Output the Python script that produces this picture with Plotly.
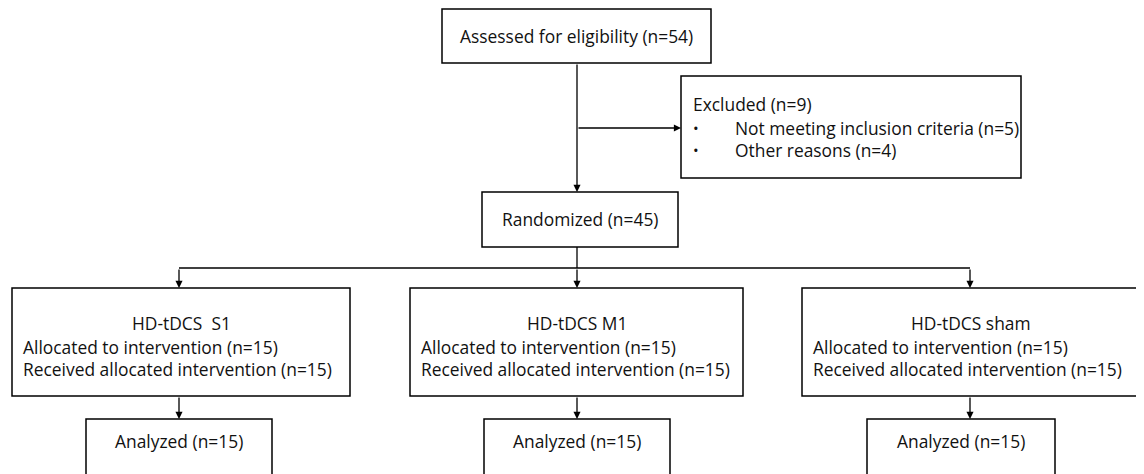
import plotly.graph_objects as go

# counts
assessed_n = 54
excluded_n = 9
excluded_reasons = ["Not meeting inclusion criteria", "Other reasons"]
excluded_counts = [5, 4]
randomized_n = 45
groups = ["HD-tDCS  S1", "HD-tDCS M1", "HD-tDCS sham"]
allocated_n = [15, 15, 15]
received_n = [15, 15, 15]
analyzed_n = [15, 15, 15]

# layout (pixel coordinates of the page, y grows downwards)
W, H = 1144, 474
PAD = 8  # default body margin of the html page
TOP_BOX = (442, 711, 9, 63)
EXCL_BOX = (681, 1021, 76, 178)
RAND_BOX = (482, 678, 192, 247)
GROUP_BOXES = [(12, 350), (410, 743), (802, 1140)]
GROUP_Y = (288, 396)
ANAL_BOXES = [(86, 272), (484, 670), (867, 1055)]
ANAL_Y = (419, 520)
SPLIT_Y = 268
BRANCH_Y = 128
FONT = dict(family="Open Sans, sans-serif", size=17.4, color="#111111")
LINE = dict(color="black", width=1.3)

fig = go.Figure()


def box(x0, x1, y0, y1):
    fig.add_shape(type="rect", x0=x0, x1=x1, y0=y0, y1=y1,
                  line=dict(color="black", width=1.5), fillcolor="white", layer="above")


def line(x0, y0, x1, y1):
    fig.add_shape(type="line", x0=x0, y0=y0, x1=x1, y1=y1, line=LINE, layer="below")


def arrow(x0, y0, x1, y1):
    fig.add_annotation(x=x1, y=y1, ax=x0, ay=y0, xref="x", yref="y", axref="x", ayref="y",
                       text="", showarrow=True, arrowhead=2, arrowsize=1.1, arrowwidth=1.3,
                       arrowcolor="black", standoff=0, startstandoff=0)


def label(x, y, text, align="center", size=None):
    f = dict(FONT, size=size) if size else FONT
    fig.add_annotation(x=x, y=y, xref="x", yref="y", text=text, showarrow=False,
                       font=f, xanchor="left" if align == "left" else "center",
                       yanchor="middle", align=align)


# top box
box(*TOP_BOX)
label((TOP_BOX[0] + TOP_BOX[1]) / 2, 36, f"Assessed for eligibility (n={assessed_n})")

# trunk and exclusion branch
arrow(577, TOP_BOX[3], 577, RAND_BOX[2])
arrow(577, BRANCH_Y, EXCL_BOX[0], BRANCH_Y)

box(*EXCL_BOX)
label(EXCL_BOX[0] + 10, 104, f"Excluded (n={excluded_n})", align="left")
for i, (reason, n) in enumerate(zip(excluded_reasons, excluded_counts)):
    yy = 128 + i * 22
    label(EXCL_BOX[0] + 10, yy, "•", align="left", size=15)
    label(EXCL_BOX[0] + 52, yy, f"{reason} (n={n})", align="left")

# randomized
box(*RAND_BOX)
label((RAND_BOX[0] + RAND_BOX[1]) / 2, 219, f"Randomized (n={randomized_n})")

centers = [179, 577, 970]
line(577, RAND_BOX[3], 577, SPLIT_Y)
line(centers[0], SPLIT_Y, centers[-1], SPLIT_Y)

for c, (gx0, gx1), (ax0, ax1), g, a, r, an in zip(
        centers, GROUP_BOXES, ANAL_BOXES, groups, allocated_n, received_n, analyzed_n):
    arrow(c, SPLIT_Y, c, GROUP_Y[0])
    box(gx0, gx1, *GROUP_Y)
    label((gx0 + gx1) / 2, 323, g)
    label(gx0 + 9, 347, f"Allocated to intervention (n={a})", align="left")
    label(gx0 + 9, 369, f"Received allocated intervention (n={r})", align="left")
    arrow(c, GROUP_Y[1], c, ANAL_Y[0])
    box(ax0, ax1, *ANAL_Y)
    label((ax0 + ax1) / 2, 441, f"Analyzed (n={an})")

# axes map straight onto page pixels, shifted by the body margin
fig.update_xaxes(range=[PAD, W], visible=False, fixedrange=True)
fig.update_yaxes(range=[H, PAD], visible=False, fixedrange=True)
fig.update_layout(
    width=W - PAD, height=H - PAD,
    margin=dict(l=0, r=0, t=0, b=0),
    plot_bgcolor="white", paper_bgcolor="white",
    showlegend=False,
)

fig.write_html("out.html")
